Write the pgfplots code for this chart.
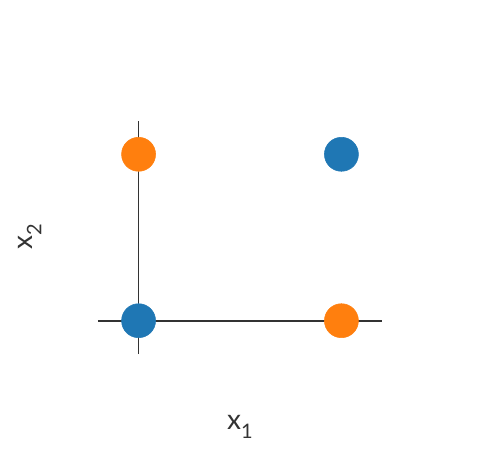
\documentclass[border=0pt]{standalone}
\usepackage{pgfplots}
\pgfplotsset{compat=1.18}
\usepackage{fontspec}
\setmainfont{Lato}
\definecolor{tabblue}{HTML}{1F77B4}
\definecolor{taborange}{HTML}{FF7F0E}
\definecolor{ink}{HTML}{333333}
\begin{document}
\begin{tikzpicture}[x=0.75pt,y=0.75pt]
\useasboundingbox (-98,-106) rectangle (380,354);
\begin{axis}[
  at={(0,0)}, anchor=south west,
  scale only axis, width=213pt, height=174.75pt,
  xmin=-0.2, xmax=1.2, ymin=-0.2, ymax=1.2,
  axis lines=middle, axis line style={-, ink, line width=1.3pt},
  xtick=\empty, ytick=\empty,
  clip=false,
]
\addplot[only marks, mark=*, mark size=12.75pt, color=tabblue, mark options={draw=none, fill=tabblue}] coordinates {(0,0) (1,1)};
\addplot[only marks, mark=*, mark size=12.75pt, color=taborange, mark options={draw=none, fill=taborange}] coordinates {(1,0) (0,1)};
\end{axis}
\node[text=ink, inner sep=0pt] at (142,-73) {\fontsize{21}{24}\selectfont x\raisebox{-0.3em}{\fontsize{15}{17}\selectfont 1}};
\node[text=ink, inner sep=0pt, rotate=90] at (-68,117) {\fontsize{21}{24}\selectfont x\raisebox{-0.3em}{\fontsize{15}{17}\selectfont 2}};
\end{tikzpicture}
\end{document}
